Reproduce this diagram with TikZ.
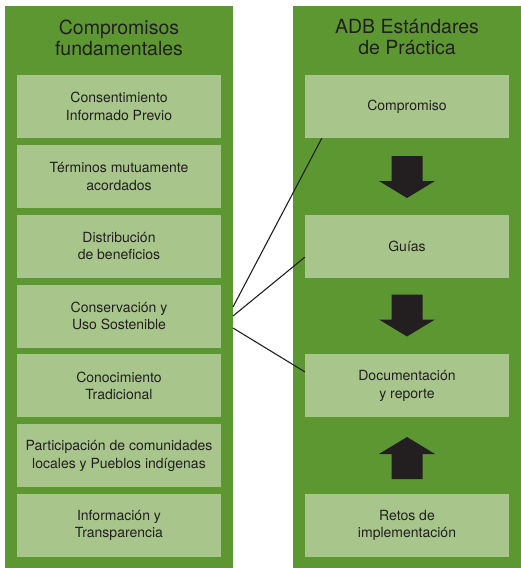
\documentclass[tikz,border=0pt]{standalone}
\usepackage{fontspec}
\setmainfont{TeX Gyre Heros}
\usepackage{xcolor}
\usepackage{tikz}
\usetikzlibrary{positioning, calc}
\definecolor{leafgreen}{RGB}{93, 151, 50}
\definecolor{palegreen}{RGB}{168, 198, 139}
\definecolor{inkgray}{RGB}{35, 31, 32}

\begin{document}
\begin{tikzpicture}[x=1pt, y=-1pt,
    paneltitle/.style={align=center, text=inkgray, font=\fontsize{19.5}{21}\selectfont},
    itembox/.style={fill=palegreen, minimum width=204pt, minimum height=63pt, inner sep=0pt,
        align=center, text=inkgray, font=\fontsize{14}{17.5}\selectfont},
    link/.style={inkgray, line width=1.1pt}]
    \useasboundingbox (0,0) rectangle (521,568);

    % LEFT: Compromisos fundamentales
    \fill[leafgreen] (5,6) rectangle (233,568);
    \node[paneltitle] (lefttitle) at (119,37.5) {Compromisos\\fundamentales};

    \node[itembox] (cip) at (119,106.5) {Consentimiento\\Informado Previo};
    \node[itembox] (terms) at (119,176.3) {Términos mutuamente\\acordados};
    \node[itembox] (dist) at (119,246.2) {Distribución\\de beneficios};
    \node[itembox] (cons) at (119,316.0) {Conservación y\\Uso Sostenible};
    \node[itembox] (trad) at (119,385.8) {Conocimiento\\Tradicional};
    \node[itembox] (partic) at (119,455.7) {Participación de comunidades\\locales y Pueblos indígenas};
    \node[itembox] (info) at (119,525.5) {Información y\\Transparencia};

    % RIGHT: ADB Estandares de Practica
    \fill[leafgreen] (293,6) rectangle (521,568);
    \node[paneltitle] (righttitle) at (407,37.5) {ADB Estándares\\de Práctica};

    \node[itembox] (comp) at (407,106.5) {Compromiso};
    \node[itembox] (guias) at (407,246.2) {Guías};
    \node[itembox] (doc) at (407,385.8) {Documentación\\y reporte};
    \node[itembox] (retos) at (407,525.5) {Retos de\\implementación};

    % Block arrows between the steps
    \foreach \cy/\d in {177/1, 315.5/1, 458/-1} {
        \begin{scope}[shift={(407,\cy)}, yscale=\d]
            \fill[inkgray] (-15.5,-21) -- (15.5,-21) -- (15.5,4) -- (28,4)
                -- (0,21) -- (-28,4) -- (-15.5,4) -- cycle;
        \end{scope}
    }

    % Links from the panel edge
    \coordinate (s1) at (233,307);
    \coordinate (s2) at (233,316);
    \coordinate (s3) at (233,328);
    \draw[link] (s1) -- ($(comp.south west)+(17,0)$);
    \draw[link] (s2) -- ([yshift=-11pt]guias.west);
    \draw[link] (s3) -- ([yshift=14pt]doc.west);
\end{tikzpicture}
\end{document}
